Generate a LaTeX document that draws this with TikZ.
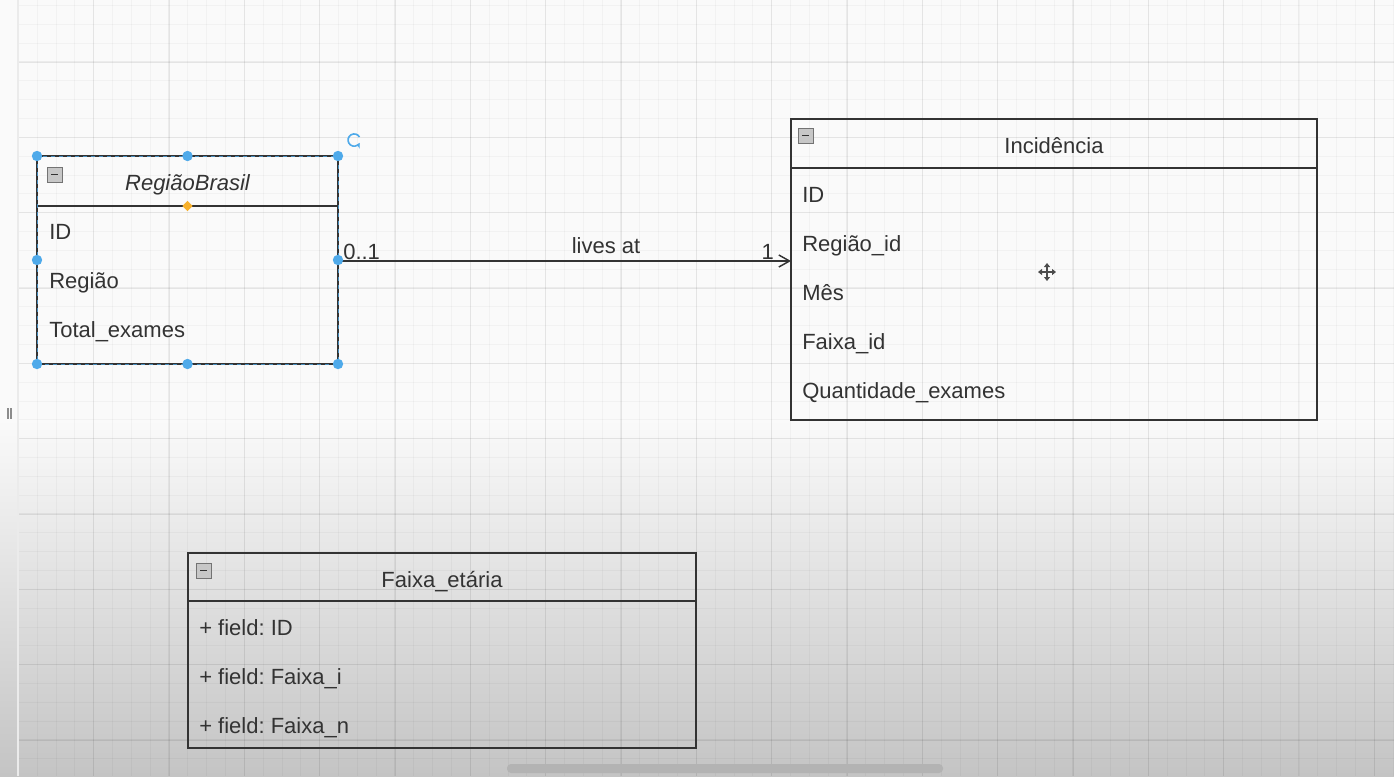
\documentclass[tikz,border=0pt]{standalone}
\usepackage{fontspec}
\setmainfont{Liberation Sans}
\usetikzlibrary{arrows.meta,shapes.geometric,calc}
\definecolor{ink}{HTML}{333333}
\definecolor{handle}{HTML}{4FAAEA}
\definecolor{pivot}{HTML}{F7B02A}
\definecolor{bgbottom}{HTML}{C4C4C4}
\definecolor{scrollbar}{HTML}{B3B3B3}
\frenchspacing
\begin{document}
\begin{tikzpicture}[x=0.75pt,y=-0.75pt,
  font=\fontsize{16.5}{20}\selectfont,
  classbox/.style={draw=ink, line width=1.3pt, rectangle, inner sep=0pt, outer sep=0pt, anchor=north west},
  title/.style={text=ink, anchor=base, inner sep=0pt},
  field/.style={text=ink, anchor=base west, inner sep=0pt},
  lbl/.style={text=ink, inner sep=0pt},
  gridminor/.style={draw=black, draw opacity=0.03, line width=0.6pt},
  gridmajor/.style={draw=black, draw opacity=0.055, line width=0.8pt},
  relation/.style={draw=ink, line width=1.2pt, -{Straight Barb[length=8pt,width=9pt,line width=1.1pt]}},
  collapse/.pic={
    \draw[fill=black!22, draw=black!55, line width=0.6pt] (0,0) rectangle (15,15);
    \draw[black!80, line width=1.3pt] (4,7.5) -- (11,7.5);
  }
]
\useasboundingbox (0,0) rectangle (1394,776);

% canvas background: near white, fading to grey towards the bottom
\fill[black!2] (0,0) rectangle (1394,420);
\shade[top color=black!2, bottom color=bgbottom] (0,420) rectangle (1394,776);

% page grid
\begin{scope}
  \clip (18,0) rectangle (1394,776);
  \foreach \i in {0,...,73} {
    \pgfmathsetmacro\gx{18.33+\i*18.833}
    \draw[gridminor] (\gx,0) -- (\gx,776);
  }
  \foreach \j in {0,...,41} {
    \pgfmathsetmacro\gy{5.5+\j*18.833}
    \draw[gridminor] (18,\gy) -- (1394,\gy);
  }
  \foreach \i in {0,...,18} {
    \pgfmathsetmacro\gx{18.33+\i*75.33}
    \draw[gridmajor] (\gx,0) -- (\gx,776);
  }
  \foreach \j in {0,...,9} {
    \pgfmathsetmacro\gy{62+\j*75.33}
    \draw[gridmajor] (18,\gy) -- (1394,\gy);
  }
\end{scope}
\draw[black!8, line width=0.8pt] (18,0) -- (18,776);
\draw[black!45, line width=0.9pt] (8,408) -- (8,419) (11,408) -- (11,419);

% class RegiãoBrasil
\node[classbox, minimum width=301*0.75pt, minimum height=208*0.75pt] (rb) at (37,156) {};
\draw[ink, line width=1.3pt] ($(rb.north west)+(0,50)$) coordinate (rbsepl) -- ($(rb.north east)+(0,50)$) coordinate (rbsepr);
\pic at ($(rb.north west)+(10,11)$) {collapse};
\node[title] (rbtitle) at ($(rb.north)+(0,34)$) {\itshape RegiãoBrasil};
\node[field] (rbf1) at ($(rb.north west)+(12,83)$) {ID};
\node[field] (rbf2) at ($(rb.north west)+(12,132)$) {Região};
\node[field] (rbf3) at ($(rb.north west)+(12,181)$) {Total\_exames};

% class Incidência
\node[classbox, minimum width=526*0.75pt, minimum height=301*0.75pt] (inc) at (791,119) {};
\draw[ink, line width=1.3pt] ($(inc.north west)+(0,49)$) -- ($(inc.north east)+(0,49)$);
\pic at ($(inc.north west)+(7,9)$) {collapse};
\node[title] (inctitle) at ($(inc.north)+(0,34)$) {Incidência};
\node[field] (incf1) at ($(inc.north west)+(11,83)$) {ID};
\node[field] (incf2) at ($(inc.north west)+(11,132)$) {Região\_id};
\node[field] (incf3) at ($(inc.north west)+(11,181)$) {Mês};
\node[field] (incf4) at ($(inc.north west)+(11,230)$) {Faixa\_id};
\node[field] (incf5) at ($(inc.north west)+(11,279)$) {Quantidade\_exames};

% class Faixa_etária
\node[classbox, minimum width=508*0.75pt, minimum height=195*0.75pt] (fx) at (188,553) {};
\draw[ink, line width=1.3pt] ($(fx.north west)+(0,48)$) -- ($(fx.north east)+(0,48)$);
\pic at ($(fx.north west)+(8,10)$) {collapse};
\node[title] (fxtitle) at ($(fx.north)+(0,34)$) {Faixa\_etária};
\node[field] (fxf1) at ($(fx.north west)+(11,82)$) {+ field: ID};
\node[field] (fxf2) at ($(fx.north west)+(11,131)$) {+ field: Faixa\_i};
\node[field] (fxf3) at ($(fx.north west)+(11,180)$) {+ field: Faixa\_n};

% association RegiãoBrasil -> Incidência
\draw[relation] ($(rb.east)+(0,1)$) coordinate (relstart) -- (relstart -| inc.west) coordinate (relend);
\node[lbl, anchor=base west] (mult0) at ($(relstart)+(5,-2)$) {0..1};
\node[lbl, anchor=base] (assoc) at ($(relstart)+(268,-8)$) {lives at};
\node[lbl, anchor=base east] (mult1) at ($(relend)+(-17,-2)$) {1};

% selection frame and handles on RegiãoBrasil
\draw[handle, draw opacity=0.75, line width=0.6pt, dash pattern=on 3pt off 3pt] (rb.north west) rectangle (rb.south east);
\foreach \a in {north west, north, north east, west, east, south west, south, south east}
  \fill[handle] (rb.\a) circle (3.9pt);
\node[diamond, fill=pivot, inner sep=0pt, minimum size=8pt] (rbpivot) at ($(rbsepl)!0.5!(rbsepr)$) {};
\draw[handle, line width=1.2pt, -{Stealth[length=3.5pt,width=4pt]}]
  ($(rb.north east)+(16,-16)+(5.5,-3)$) arc[start angle=30, end angle=330, radius=4.6pt];

% move cursor
\draw[black!70, line width=1.1pt, {Triangle[length=3pt,width=4.5pt]}-{Triangle[length=3pt,width=4.5pt]}] (1038,272) -- (1056,272);
\draw[black!70, line width=1.1pt, {Triangle[length=3pt,width=4.5pt]}-{Triangle[length=3pt,width=4.5pt]}] (1047,263) -- (1047,281);

% horizontal scrollbar
\fill[scrollbar, rounded corners=3pt] (507,764) rectangle (943,773);
\end{tikzpicture}
\end{document}
